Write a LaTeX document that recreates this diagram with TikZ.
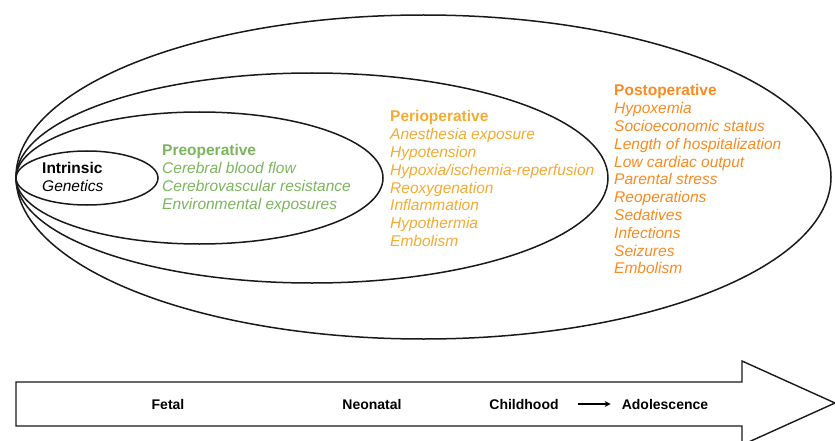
\documentclass[tikz,border=0pt]{standalone}
\usepackage{fontspec}
\setmainfont{Liberation Sans}
\usetikzlibrary{arrows.meta, positioning}
\definecolor{pregreen}{RGB}{122, 181, 92}
\definecolor{perioyellow}{RGB}{245, 170, 48}
\definecolor{postorange}{RGB}{250, 138, 32}
\definecolor{linedark}{RGB}{25, 25, 25}

\begin{document}
\begin{tikzpicture}[x=1pt, y=-1pt,
    ring/.style={line width=1.5pt, draw=linedark},
    factors/.style={anchor=north west, align=left, inner sep=0pt, font=\fontsize{15.5}{17.8}\selectfont},
    stage/.style={inner sep=0pt, font=\fontsize{14}{15}\selectfont\bfseries}
]
    \clip (0, 0) rectangle (835, 441);

    % nested risk ellipses, all touching on the left
    \draw[ring] (423.5, 177) ellipse [x radius=407.5, y radius=162];
    \draw[ring] (312, 178) ellipse [x radius=296, y radius=105];
    \draw[ring] (199.5, 178) ellipse [x radius=183.5, y radius=66];
    \draw[ring] (87, 178) ellipse [x radius=71, y radius=27];

    \node[factors] (intrinsic) at (42, 162) {\textbf{Intrinsic}\\\textit{Genetics}};
    \node[factors, text=pregreen] (preop) at (162, 144.5) {\textbf{Preoperative}\\
        \textit{Cerebral blood flow}\\
        \textit{Cerebrovascular resistance}\\
        \textit{Environmental exposures}};
    \node[factors, text=perioyellow] (periop) at (390, 110.5) {\textbf{Perioperative}\\
        \textit{Anesthesia exposure}\\
        \textit{Hypotension}\\
        \textit{Hypoxia/ischemia-reperfusion}\\
        \textit{Reoxygenation}\\
        \textit{Inflammation}\\
        \textit{Hypothermia}\\
        \textit{Embolism}};
    \node[factors, text=postorange] (postop) at (614, 84.5) {\textbf{Postoperative}\\
        \textit{Hypoxemia}\\
        \textit{Socioeconomic status}\\
        \textit{Length of hospitalization}\\
        \textit{Low cardiac output}\\
        \textit{Parental stress}\\
        \textit{Reoperations}\\
        \textit{Sedatives}\\
        \textit{Infections}\\
        \textit{Seizures}\\
        \textit{Embolism}};

    % age axis
    \draw[line width=1.4pt, draw=linedark] (16, 382) -- (742, 382) -- (742, 361) -- (835, 403)
        -- (742, 445) -- (742, 426) -- (16, 426) -- cycle;

    \node[stage] (fetal) at (168, 404) {Fetal};
    \node[stage] (neonatal) at (372, 404) {Neonatal};
    \node[stage] (childhood) at (524, 404) {Childhood};
    \node[stage] (adolescence) at (665, 404) {Adolescence};

    \draw[-{Stealth[length=6pt, width=6pt]}, line width=1.3pt, shorten <=19pt, shorten >=11pt] (childhood) -- (adolescence);
\end{tikzpicture}
\end{document}
